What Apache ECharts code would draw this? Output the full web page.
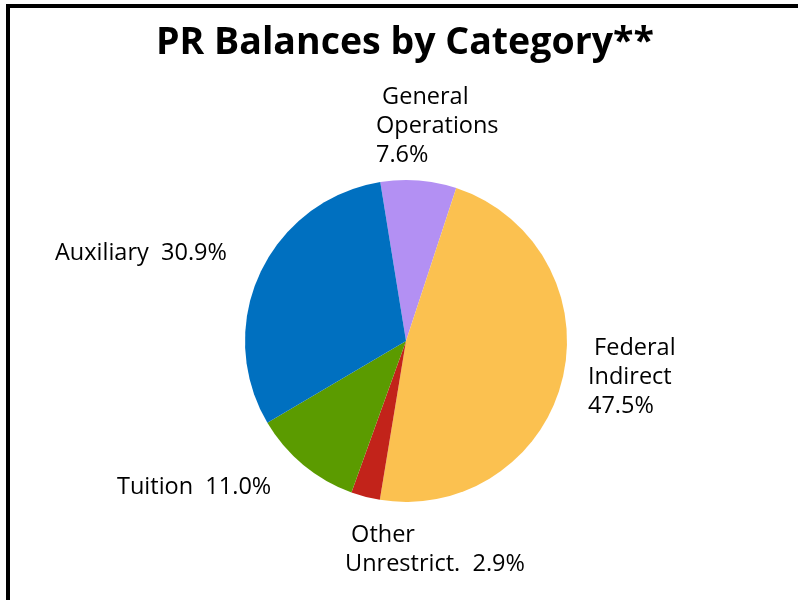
<!DOCTYPE html>
<html>
<head>
<meta charset="utf-8">
<style>
  html, body { margin: 0; padding: 0; background: #ffffff; }
  #chart { width: 798px; height: 600px; }
</style>
<script src="https://cdn.jsdelivr.net/npm/echarts@6/dist/echarts.min.js"></script>
</head>
<body>
<div id="chart"></div>
<script>
// Balance shares by category, in clockwise order from the top
const categories = ['General Operations', 'Federal Indirect', 'Other Unrestrict.', 'Tuition', 'Auxiliary'];
const shares = [7.6, 47.5, 2.9, 11.0, 30.9];
const labelTexts = [
  ' General\nOperations\n7.6%',
  ' Federal\nIndirect\n47.5%',
  ' Other\nUnrestrict.  2.9%',
  'Tuition  11.0%',
  'Auxiliary  30.9%'
];

const sliceColors = ['#B390F3', '#FBC150', '#C2231A', '#5B9B00', '#0070C0'];
// label anchor (left edge, vertical middle) for each slice
const labelAnchors = [[376, 126], [588, 377], [345, 550], [117, 487], [55, 253]];

const chart = echarts.init(document.getElementById('chart'), null, { renderer: 'canvas' });

chart.setOption({
  animation: false,
  backgroundColor: '#ffffff',
  title: {
    text: 'PR Balances by Category**',
    left: 151,
    top: 19,
    textStyle: {
      fontFamily: 'Open Sans',
      fontWeight: 'bold',
      fontSize: 37.5,
      color: '#000000'
    }
  },
  graphic: [{
    type: 'rect',
    shape: { x: 8, y: 6, width: 1200, height: 1200 },
    style: { fill: 'none', stroke: '#000000', lineWidth: 4 },
    silent: true
  }],
  series: [{
    type: 'pie',
    center: [406, 341],
    radius: 161,
    startAngle: 99.2,
    clockwise: true,
    avoidLabelOverlap: false,
    itemStyle: { borderWidth: 0 },
    label: {
      show: true,
      position: 'outside',
      fontFamily: 'Open Sans',
      fontSize: 23.5,
      lineHeight: 29,
      color: '#000000',
      formatter: p => labelTexts[p.dataIndex]
    },
    labelLine: { show: false },
    labelLayout: p => ({
      x: labelAnchors[p.dataIndex][0],
      y: labelAnchors[p.dataIndex][1],
      align: 'left',
      verticalAlign: 'middle'
    }),
    data: categories.map((name, i) => ({
      name: name,
      value: shares[i],
      itemStyle: { color: sliceColors[i] }
    }))
  }]
});
</script>
</body>
</html>
